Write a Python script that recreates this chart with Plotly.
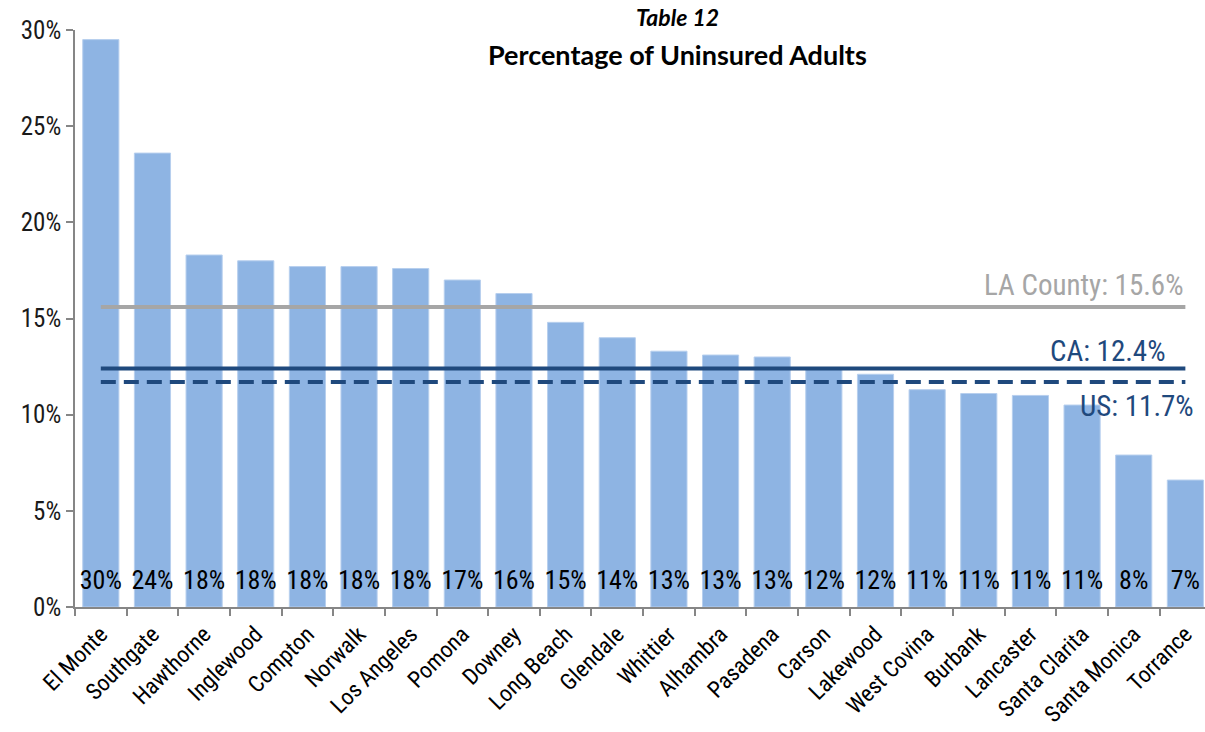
import plotly.graph_objects as go

cities = ["El Monte", "Southgate", "Hawthorne", "Inglewood", "Compton", "Norwalk",
          "Los Angeles", "Pomona", "Downey", "Long Beach", "Glendale", "Whittier",
          "Alhambra", "Pasadena", "Carson", "Lakewood", "West Covina", "Burbank",
          "Lancaster", "Santa Clarita", "Santa Monica", "Torrance"]
uninsured = [29.5, 23.6, 18.3, 18.0, 17.7, 17.7, 17.6, 17.0, 16.3, 14.8, 14.0, 13.3,
             13.1, 13.0, 12.4, 12.1, 11.3, 11.1, 11.0, 10.5, 7.9, 6.6]
bar_labels = ["30%", "24%", "18%", "18%", "18%", "18%", "18%", "17%", "16%", "15%", "14%",
              "13%", "13%", "13%", "12%", "12%", "11%", "11%", "11%", "11%", "8%", "7%"]

ref_names = ["LA County", "CA", "US"]
ref_values = [15.6, 12.4, 11.7]

y_ticks = [0, 5, 10, 15, 20, 25, 30]

LABEL_LEVEL = 1.3  # vertical placement of the value labels (style constant)

NARROW = "Liberation Sans Narrow, Arial Narrow, Roboto Condensed, sans-serif"
NAVY = "#1F497D"
GRAY = "#A6A6A6"

fig = go.Figure()
fig.add_trace(go.Bar(
    x=cities, y=uninsured,
    marker=dict(color="#8EB4E3", line=dict(color="#B7CFEE", width=1)),
    showlegend=False, hoverinfo="x+y",
))
fig.add_trace(go.Scatter(
    x=cities, y=[LABEL_LEVEL] * len(cities), mode="text", text=bar_labels,
    textposition="middle center",
    textfont=dict(family=NARROW, size=26, color="#000000"),
    showlegend=False, hoverinfo="skip",
))

styles = [dict(color=GRAY, width=4), dict(color=NAVY, width=4),
          dict(color=NAVY, width=4, dash="15px,8px")]
for name, val, st in zip(ref_names, ref_values, styles):
    fig.add_trace(go.Scatter(x=[cities[0], cities[-1]], y=[val, val], mode="lines",
                             line=st, showlegend=False, hoverinfo="name+y", name=name))

ann_pos = [(0.983, 22, GRAY), (0.967, 18, NAVY), (0.992, -24, NAVY)]
for name, val, (ax, ys, col) in zip(ref_names, ref_values, ann_pos):
    fig.add_annotation(text=f"{name}: {val:.1f}%", xref="paper", x=ax, xanchor="right",
                       yref="y", y=val, yanchor="middle", yshift=ys, showarrow=False,
                       font=dict(family=NARROW, size=29, color=col))

fig.add_annotation(text="<b><i>Table 12</i></b>", xref="paper", x=0.533, xanchor="center",
                   yref="paper", y=1.022, yanchor="middle", showarrow=False,
                   font=dict(family="Lato, sans-serif", size=23, color="#000000"))
fig.add_annotation(text="<b>Percentage of Uninsured Adults</b>", xref="paper", x=0.533,
                   xanchor="center", yref="paper", y=0.958, yanchor="middle", showarrow=False,
                   font=dict(family="Lato, sans-serif", size=27, color="#000000"))

fig.update_layout(
    width=1205, height=732, margin=dict(l=75, r=0, t=30, b=125, autoexpand=False),
    paper_bgcolor="white", plot_bgcolor="white", bargap=0.3,
    font=dict(family=NARROW, size=24, color="#000000"),
)
fig.update_xaxes(range=[-0.5, 21.38], showline=True, linecolor="#868686", linewidth=1.5,
                 ticks="outside", tickson="boundaries", ticklen=7, tickcolor="#868686",
                 tickwidth=1.5, tickangle=-45, showgrid=False, ticklabelstandoff=3,
                 automargin=False,
                 tickfont=dict(family=NARROW, size=23, color="#000000"))
fig.update_yaxes(range=[0, 30], tickvals=y_ticks, ticktext=[f"{v}%" for v in y_ticks],
                 showline=True, linecolor="#868686", linewidth=1.5, ticks="outside",
                 ticklen=7, tickcolor="#868686", tickwidth=1.5, showgrid=False,
                 zeroline=False, automargin=False,
                 tickfont=dict(family=NARROW, size=25, color="#1a1a1a"))

fig.write_html("out.html")
